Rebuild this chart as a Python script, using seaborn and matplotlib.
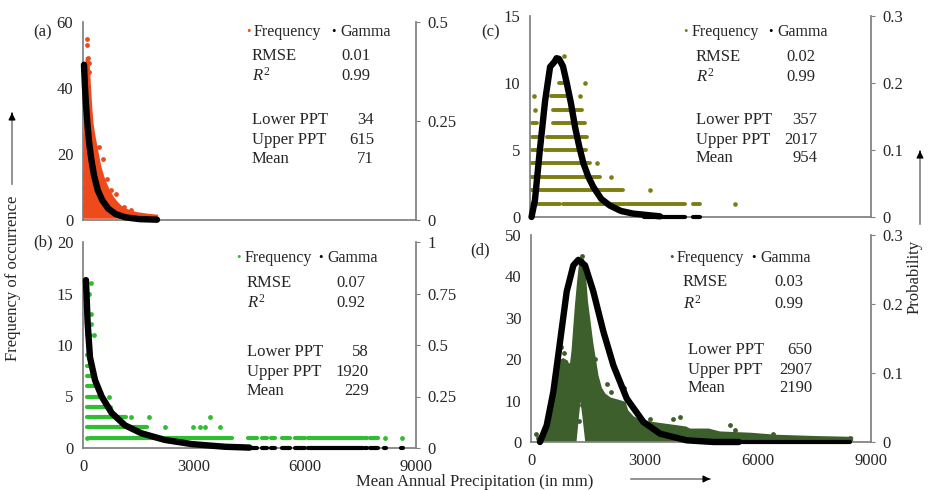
import matplotlib
matplotlib.use("Agg")
import matplotlib.pyplot as plt
import seaborn as sns

# ---------------------------------------------------------------
# Données (x en mm, y = fréquence / probabilité)
# ---------------------------------------------------------------

# (a) zone dense (contour) + points isolés + courbe gamma
A_FILL_X = [30, 50, 70, 85, 100, 140, 170, 200, 230, 260, 300, 350, 400, 470, 550,
            620, 700, 800, 900, 1000, 1150, 1300, 1500, 1750, 2000, 2000, 30]
A_FILL_Y = [26, 27, 33, 45, 49, 49, 44, 38, 33, 29, 26, 23, 20, 16, 13,
            11, 9, 7, 5.5, 4.3, 3.2, 2.5, 2, 1.6, 1.3, 0.7, 0.7]
A_PTS_X = [100, 115, 140, 150, 160, 30, 30, 30, 35, 40, 50, 60, 540, 420, 760, 880, 640, 1100, 1300]
A_PTS_Y = [55, 53, 49, 47.5, 45, 2, 4, 7, 10, 13, 14, 20, 18.5, 22, 9, 8, 12.5, 4, 3]
A_GAM_X = [27, 50, 80, 120, 170, 230, 300, 400, 520, 680, 880, 1150, 1500, 2000]
A_GAM_P = [0.392, 0.342, 0.292, 0.242, 0.192, 0.15, 0.112, 0.075, 0.05, 0.029, 0.015, 0.0067, 0.0025, 0.0008]
A_ZERO_X0 = [1500]
A_ZERO_X1 = [2000]

# (b) rangées de points (fréquence, début, fin)
B_ROW_Y = [1, 1, 1, 1, 1, 1, 1, 1, 1, 1, 2, 3, 4, 5, 6, 7, 8, 9, 10]
B_ROW_X0 = [190, 2250, 4470, 4830, 5080, 5370, 5730, 6090, 7620, 7760, 100, 100, 100, 100, 100, 100, 100, 100, 100]
B_ROW_X1 = [2150, 4020, 4690, 4960, 5180, 5600, 6000, 7580, 7670, 7980, 1720, 1150, 640, 450, 330, 260, 190, 150, 120]
B_PTS_X = [100, 8160, 8620, 2216, 2980, 3160, 3300, 3700, 1300, 1780, 3430, 720, 700, 100, 190, 300, 216, 216, 160, 216]
B_PTS_Y = [1, 1, 1, 2, 2, 2, 2, 2, 3, 3, 3, 4, 5, 11, 11, 11, 12, 13, 15, 16]
B_GAM_X = [80, 126, 189, 324, 505, 775, 1135, 1586, 2216, 2937, 3837, 4500]
B_GAM_P = [0.815, 0.605, 0.44, 0.33, 0.25, 0.17, 0.11, 0.071, 0.039, 0.019, 0.006, 0.002]
B_ZERO_X0 = [4470, 4830, 5080, 5370, 5730, 6090, 7620, 7760, 8140, 8600]
B_ZERO_X1 = [4690, 4960, 5180, 5600, 6000, 7580, 7670, 7980, 8180, 8650]

# (c)
C_ROW_Y = [1, 1, 1, 1, 2, 3, 4, 5, 5, 6, 6, 7, 7, 8, 9, 10]
C_ROW_X0 = [30, 860, 2560, 4310, 30, 30, 30, 40, 400, 40, 460, 40, 620, 600, 550, 760]
C_ROW_X1 = [800, 2500, 4090, 4480, 2450, 1850, 1580, 220, 1480, 230, 1500, 180, 1450, 1360, 1010, 900]
C_PTS_X = [5410, 3170, 2135, 1760, 120, 100, 1310, 1450, 900]
C_PTS_Y = [1, 2, 3, 4, 8, 9, 9, 10, 12]
C_GAM_X = [40, 130, 260, 400, 530, 650, 700, 765, 870, 970, 1080, 1190, 1300,
           1410, 1540, 1670, 1880, 2110, 2400, 2730, 3430]
C_GAM_P = [0, 0.025, 0.10, 0.174, 0.224, 0.232, 0.237, 0.236, 0.225, 0.20, 0.17, 0.134, 0.105,
           0.08, 0.06, 0.045, 0.027, 0.017, 0.009, 0.005, 0.001]
C_ZERO_X0 = [3000, 4310, 5400]
C_ZERO_X1 = [4090, 4480, 5420]

# (d)
D_FILL_X = [180, 250, 350, 450, 520, 600, 660, 700, 760, 850, 950, 1020, 1060, 1100, 1140,
            1190, 1250, 1310, 1380, 1430, 1480, 1550, 1620, 1690, 1760, 1850, 1950, 2100,
            2300, 2480, 2550, 2700, 2900, 3300, 3700, 4100, 4200, 4700, 5000, 5800, 6500,
            7500, 8500, 8500, 1460, 1390, 1310, 1240, 1180, 180]
D_FILL_Y = [0.3, 1.5, 3, 5.5, 8, 11, 14, 17.5, 19.5, 20, 19.5, 18, 19, 22, 27,
            33, 39, 44, 44, 40, 34, 29, 24, 20, 16, 13, 11.5, 10.5,
            10, 9.5, 7.5, 6, 5, 4.5, 4, 3.5, 3, 3, 2.3, 2, 1.5,
            1.2, 1, 0.3, 0.3, 6, 12, 6, 0.3, 0.3]
D_PTS_X = [120, 180, 800, 880, 1030, 1360, 2000, 2120, 2240, 2450, 3150, 3770, 3950,
           5270, 5400, 6400, 1700, 600, 650, 8450, 1280, 1350]
D_PTS_Y = [2, 1, 23, 21.5, 18.5, 45, 14, 12, 8.5, 13, 5.5, 5.5, 6, 4, 3, 2, 20, 13, 16, 1, 5, 9]
D_GAM_X = [238, 415, 592, 768, 945, 1121, 1254, 1430, 1650, 1916, 2181, 2534, 2976,
           3417, 4124, 4830, 5500]
D_GAM_P = [0, 0.024, 0.073, 0.145, 0.218, 0.256, 0.264, 0.256, 0.218, 0.16, 0.111,
           0.063, 0.029, 0.012, 0.0024, 0, 0]
D_ZERO_X0 = [4800]
D_ZERO_X1 = [8450]

# textes des encadrés
LABELS = ["(a)", "(b)", "(c)", "(d)"]
RMSE = ["0.01", "0.07", "0.02", "0.03"]
R2 = ["0.99", "0.92", "0.99", "0.99"]
LOWER = ["34", "58", "357", "650"]
UPPER = ["615", "1920", "2017", "2907"]
MEAN = ["71", "229", "954", "2190"]

W, H = 930, 490
GREY = "#808080"
COLORS = ["#EE4A1C", "#2FBE2F", "#7D7D12", "#3D5F2B"]

sns.set_theme(style="white")
plt.rcParams["font.family"] = ["Liberation Serif", "DejaVu Serif"]
plt.rcParams["mathtext.fontset"] = "custom"
plt.rcParams["mathtext.rm"] = "Liberation Serif"
plt.rcParams["mathtext.it"] = "Liberation Serif:italic"
FS = 12


def box(l, t, r, b):
    return [l / W, 1 - b / H, (r - l) / W, (b - t) / H]


def ftext(x, y, s, **kw):
    fig.text(x / W, 1 - y / H, s, fontsize=kw.pop("fontsize", FS), **kw)


def setup(ax, ax2, ymax, yticks, pmax, pticks, plabels, show_x):
    ax.set_xlim(0, 9000)
    ax.set_ylim(0, ymax)
    ax2.set_ylim(0, pmax)
    ax.set_yticks(yticks)
    ax2.set_yticks(pticks)
    ax2.set_yticklabels(plabels)
    ax.set_xticks([0, 3000, 6000, 9000])
    if not show_x:
        ax.set_xticklabels([])
    ax.set(xlabel="", ylabel="")
    ax2.set(xlabel="", ylabel="")
    for s in ["top", "right"]:
        ax.spines[s].set_visible(False)
    for s in ["top", "left", "bottom"]:
        ax2.spines[s].set_visible(False)
    ax.spines["left"].set_color(GREY)
    ax.spines["bottom"].set_color(GREY)
    ax2.spines["right"].set_color(GREY)
    ax.tick_params(axis="y", length=0, pad=7, labelsize=FS)
    ax.tick_params(axis="x", length=0, pad=8, labelsize=FS)
    ax2.tick_params(axis="y", length=3, width=0.8, pad=5, direction="out",
                    color=GREY, labelsize=FS)


def rows(ax, ys, x0, x1, color, lw):
    lc = ax.hlines(ys, x0, x1, colors=color, lw=lw, zorder=2)
    lc.set_capstyle("round")


def gamma(ax2, gx, gp, zx0, zx1):
    sns.lineplot(x=gx, y=gp, ax=ax2, color="black", lw=4.6, sort=False,
                 estimator=None, zorder=5, clip_on=False)
    lc = ax2.hlines([0] * len(zx0), zx0, zx1, colors="black", lw=3.0, zorder=5,
                    clip_on=False)
    lc.set_capstyle("round")


fig = plt.figure(figsize=(W / 100, H / 100), dpi=100)

ax_a = fig.add_axes(box(83, 22, 416, 220))
ax_b = fig.add_axes(box(83, 242, 416, 448))
ax_c = fig.add_axes(box(530, 16, 871, 217))
ax_d = fig.add_axes(box(531, 235, 871, 442))
axes = [ax_a, ax_b, ax_c, ax_d]
twins = [a.twinx() for a in axes]

# (a)
ax_a.fill(A_FILL_X, A_FILL_Y, color=COLORS[0], lw=1.5, zorder=2)
sns.scatterplot(x=A_PTS_X, y=A_PTS_Y, ax=ax_a, color=COLORS[0], s=12, linewidth=0, zorder=3)
gamma(twins[0], A_GAM_X, A_GAM_P, A_ZERO_X0, A_ZERO_X1)
setup(ax_a, twins[0], 60, [0, 20, 40, 60], 0.5, [0, 0.25, 0.5], ["0", "0.25", "0.5"], False)

# (b)
rows(ax_b, B_ROW_Y, B_ROW_X0, B_ROW_X1, COLORS[1], 3.0)
sns.scatterplot(x=B_PTS_X, y=B_PTS_Y, ax=ax_b, color=COLORS[1], s=12, linewidth=0, zorder=3)
gamma(twins[1], B_GAM_X, B_GAM_P, B_ZERO_X0, B_ZERO_X1)
setup(ax_b, twins[1], 20, [0, 5, 10, 15, 20], 1, [0, 0.25, 0.5, 0.75, 1],
      ["0", "0.25", "0.5", "0.75", "1"], True)

# (c)
rows(ax_c, C_ROW_Y, C_ROW_X0, C_ROW_X1, COLORS[2], 2.8)
sns.scatterplot(x=C_PTS_X, y=C_PTS_Y, ax=ax_c, color=COLORS[2], s=11, linewidth=0, zorder=3)
gamma(twins[2], C_GAM_X, C_GAM_P, C_ZERO_X0, C_ZERO_X1)
setup(ax_c, twins[2], 15, [0, 5, 10, 15], 0.3, [0, 0.1, 0.2, 0.3], ["0", "0.1", "0.2", "0.3"], False)

# (d)
ax_d.fill(D_FILL_X, D_FILL_Y, color=COLORS[3], lw=1.5, zorder=2)
sns.scatterplot(x=D_PTS_X, y=D_PTS_Y, ax=ax_d, color=COLORS[3], s=12, linewidth=0, zorder=3)
gamma(twins[3], D_GAM_X, D_GAM_P, D_ZERO_X0, D_ZERO_X1)
setup(ax_d, twins[3], 50, [0, 10, 20, 30, 40, 50], 0.3, [0, 0.1, 0.2, 0.3],
      ["0", "0.1", "0.2", "0.3"], True)

# légendes et statistiques (positions en pixels)
LEG = [(248, 254, 333, 340, 32), (238, 245, 320, 327, 258),
       (685, 692, 770, 777, 32), (671, 677, 753, 760, 258)]
STAT = [(252, 252, 370, 374, [56, 76, 120, 140, 159]),
        (247, 247, 365, 369, [283, 303, 352, 372, 391]),
        (696, 696, 815, 817, [57, 77, 120, 140, 158]),
        (683, 688, 803, 812, [282, 304, 350, 370, 388])]
LAB_POS = [(33, 32), (33, 242), (481, 32), (470, 250)]

for i in range(4):
    d1, t1, d2, t2, ly = LEG[i]
    ftext(d1, ly, "•", color=COLORS[i], fontsize=9, ha="center", va="center")
    ftext(t1, ly, "Frequency", fontsize=11.5, ha="left", va="center")
    ftext(d2, ly, "•", color="black", fontsize=9, ha="center", va="center")
    ftext(t2, ly, "Gamma", fontsize=11.5, ha="left", va="center")
    lx, lx2, vx, vx2, ys = STAT[i]
    ftext(lx, ys[0], "RMSE", ha="left", va="center")
    ftext(vx, ys[0], RMSE[i], ha="right", va="center")
    ftext(lx, ys[1], r"$R^{\mathrm{2}}$", ha="left", va="center")
    ftext(vx, ys[1], R2[i], ha="right", va="center")
    ftext(lx2, ys[2], "Lower PPT", ha="left", va="center")
    ftext(vx2, ys[2], LOWER[i], ha="right", va="center")
    ftext(lx2, ys[3], "Upper PPT", ha="left", va="center")
    ftext(vx2, ys[3], UPPER[i], ha="right", va="center")
    ftext(lx2, ys[4], "Mean", ha="left", va="center")
    ftext(vx2, ys[4], MEAN[i], ha="right", va="center")
    px, py = LAB_POS[i]
    ftext(px, py, LABELS[i], ha="left", va="center")

# titres des axes et flèches
ftext(475, 482, "Mean Annual Precipitation (in mm)", ha="center", va="center")
ftext(13, 278, "Frequency of occurrence", rotation=90, ha="center", va="center")
ftext(915, 277, "Probability", rotation=90, ha="center", va="center")

shaft = dict(arrowstyle="-", color=GREY, lw=1.2)
head = dict(arrowstyle="-|>", color="black", lw=1.0, mutation_scale=10)
for (x0, y0, x1, y1) in [(12, 187, 12, 110), (628, 479, 713, 479), (920, 227, 920, 148)]:
    ax_a.annotate("", xy=(x1, H - y1), xytext=(x0, H - y0), xycoords="figure pixels",
                  textcoords="figure pixels", arrowprops=shaft, annotation_clip=False)
    hx = x1 - 0.1 * (x1 - x0)
    hy = y1 - 0.1 * (y1 - y0)
    ax_a.annotate("", xy=(x1, H - y1), xytext=(hx, H - hy), xycoords="figure pixels",
                  textcoords="figure pixels", arrowprops=head, annotation_clip=False)

fig.savefig("out.png", dpi=100)
plt.close(fig)
